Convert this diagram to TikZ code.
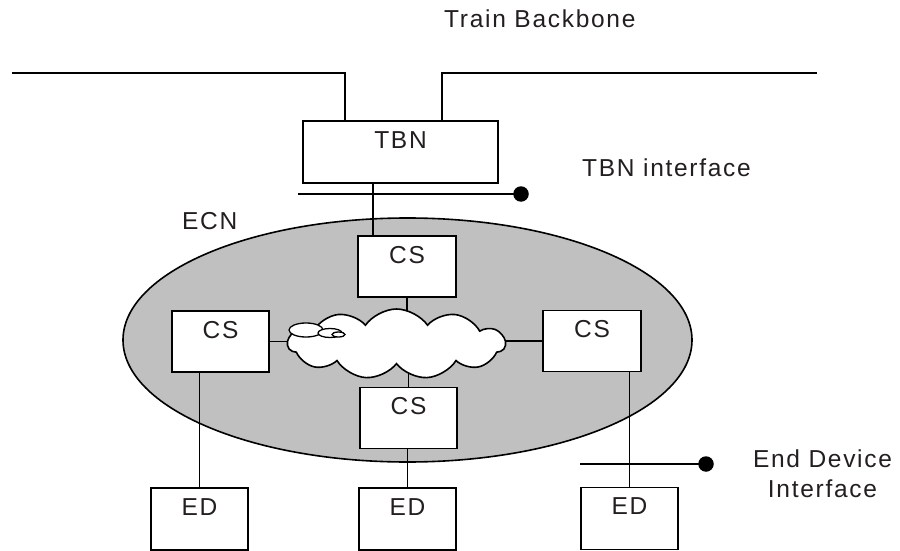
\documentclass[tikz,border=0pt]{standalone}
\usepackage{fontspec}
\newfontfamily\labfont[LetterSpace=7]{Liberation Sans}
\usetikzlibrary{shapes.geometric,shapes.symbols}
\pgfdeclarelayer{back}
\pgfdeclarelayer{mid}
\pgfsetlayers{back,mid,main}
\definecolor{ecngray}{HTML}{C0C0C0}
\definecolor{txt}{HTML}{231F20}
\tikzset{
  every node/.style={font=\labfont\fontsize{24.5}{30}\selectfont, text=txt},
  wire/.style={draw=black, line width=1.6pt},
  iface/.style={draw=black, line width=2.4pt},
  boxnode/.style={draw=black, line width=1.6pt, fill=white, inner sep=0pt,
    text height=27pt, text depth=35pt, minimum width=97pt},
  csbox/.style={boxnode, text depth=34pt},
  lbl/.style={inner sep=0pt, anchor=base west},
  dotnode/.style={circle, fill=black, draw=none, inner sep=0pt, minimum size=15.5pt},
}
\begin{document}
\begin{tikzpicture}[x=1pt,y=1pt]
\useasboundingbox (0,0) rectangle (900,-551);

% ECN ellipse
\begin{pgfonlayer}{back}
\fill[white] (0,0) rectangle (900,-551);
\node[ellipse, draw=black, line width=1.6pt, fill=ecngray, minimum width=569pt,
      minimum height=244pt, inner sep=0pt] (ecn) at (407.5,-340) {};
\end{pgfonlayer}

% boxes
\node[boxnode, minimum width=195pt] (tbn) at (400.5,-152) {TBN};
\node[csbox, minimum width=98pt] (cst) at (407,-266.5) {CS};
\node[csbox] (csl) at (220.5,-341.5) {CS};
\node[csbox, minimum width=98pt] (csr) at (592,-341) {CS};
\node[csbox] (csb) at (408.5,-418) {CS};
\node[boxnode] (edl) at (199.5,-519) {ED};
\node[boxnode] (edm) at (407.5,-519) {ED};
\node[boxnode] (edr) at (629.5,-518.5) {ED};

% cloud
\node[cloud, draw=black, line width=1.6pt, fill=white, cloud puffs=11, cloud puff arc=110,
      cloud ignores aspect, minimum width=217pt, minimum height=70pt, inner sep=0pt]
      (cloud) at (396.5,-344) {};
\draw[line width=1.3pt, fill=white] (306,-330) ellipse (17 and 7);
\draw[line width=1.3pt, fill=white] (330,-333) ellipse (12 and 4.5);
\draw[line width=1.3pt, fill=white] (338.5,-334.5) ellipse (6.5 and 2.5);

% connectors
\coordinate (tbnx) at (373,0);
\coordinate (bbl) at (12,-73);
\coordinate (bbr) at (817,-73);
\coordinate (tbnl) at (345,0);
\coordinate (tbnr) at (442,0);
\draw[wire] (bbl) -- (bbl -| tbnl) -- (tbn.north -| tbnl);
\draw[wire] (bbr) -- (bbr -| tbnr) -- (tbn.north -| tbnr);
\draw[wire] (tbn.south -| tbnx) -- (cst.north -| tbnx);

\begin{pgfonlayer}{mid}
\draw[wire] (cst.south) -- (cst.south |- cloud.center);
\draw[wire] (csb.north) -- (csb.north |- cloud.center);
\draw[wire] (csl.east) -- (csl.east -| cloud.center);
\draw[wire] (csr.west) -- (csr.west -| cloud.center);
\end{pgfonlayer}

\draw[wire] (edl.north) -- (edl.north |- csl.south);
\draw[wire] (edm.north) -- (edm.north |- csb.south);
\draw[wire] (edr.north) -- (edr.north |- csr.south);

% interfaces
\coordinate (tif) at (298,-194);
\node[dotnode] (tbndot) at (521,-194) {};
\draw[iface] (tif) -- (tbndot.center);
\coordinate (edif) at (580,-464);
\node[dotnode] (eddot) at (706,-464) {};
\draw[iface] (edif) -- (eddot.center);

% labels
\node[lbl] (tbl) at (444,-28) {Train Backbone};
\node[lbl] (tifl) at (582,-176) {TBN interface};
\node[lbl] (ecnl) at (182,-229) {ECN};
\node[inner sep=0pt, anchor=base] (edi1) at (822.5,-467) {End Device};
\node[inner sep=0pt, anchor=base] (edi2) at (822.5,-497) {Interface};
\end{tikzpicture}
\end{document}
